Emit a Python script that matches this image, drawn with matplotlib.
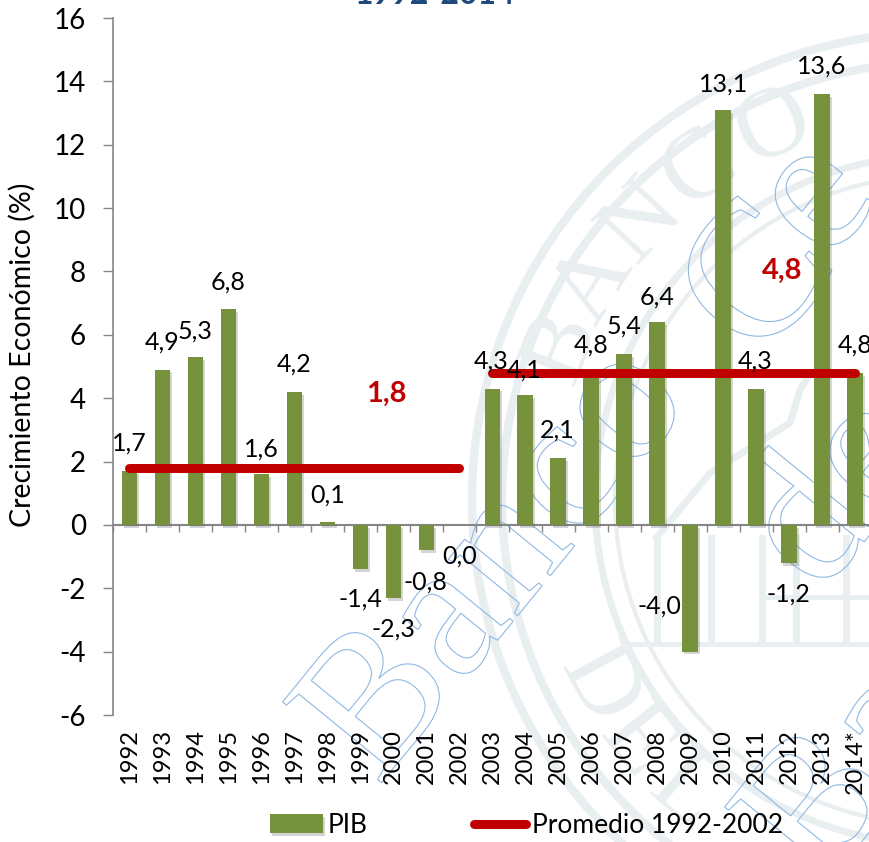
import matplotlib
matplotlib.use("Agg")
import matplotlib.pyplot as plt
import numpy as np
from matplotlib.font_manager import FontProperties
from matplotlib.lines import Line2D
from matplotlib.patches import Circle, PathPatch, Rectangle
from matplotlib.text import TextPath
from matplotlib.transforms import Affine2D, IdentityTransform
import matplotlib.patheffects as pe

# ---------- data ----------
years = ["1992", "1993", "1994", "1995", "1996", "1997", "1998", "1999", "2000", "2001", "2002", "2003",
         "2004", "2005", "2006", "2007", "2008", "2009", "2010", "2011", "2012", "2013", "2014*"]
pib = [1.7, 4.9, 5.3, 6.8, 1.6, 4.2, 0.1, -1.4, -2.3, -0.8, 0.0, 4.3,
       4.1, 2.1, 4.8, 5.4, 6.4, -4.0, 13.1, 4.3, -1.2, 13.6, 4.8]
mean_early = 1.8
mean_late = 4.8
yticks = [-6, -4, -2, 0, 2, 4, 6, 8, 10, 12, 14, 16]

# ---------- label offsets from the bar end, in pixels ----------
label_dx = [0, 0, 0, 0, 0, 0, 0, 0, 0, -1, 0, -1, -1, -1, 0, 0, 0, -31, 0, -1, -1, 0, 0]
label_dy = [28, 28, 26, 27, 25, 28, 27, -30, -31, -32, -31, 28, 25, 28, 28, 28, 25, 46, 26, 28, -31, 28, 28]

W, H = 870, 842
FONT = "Lato"
plt.rcParams["font.family"] = [FONT, "DejaVu Sans"]
fig = plt.figure(figsize=(W / 100, H / 100), dpi=100, facecolor="white")


def py(y):
    return H - y


ident = IdentityTransform()

# ---------- watermark: seal ----------
SEAL = "#e9eef0"
cx, cy = 940, 500
for r, w in [(468, 6), (438, 6), (345, 5), (325, 3)]:
    fig.add_artist(Circle((cx, py(cy)), r, fill=False, ec=SEAL, lw=w, transform=ident, zorder=-2))
for ch, a in zip("BANCO", [22, 32, 43, 54, 66]):
    t = np.radians(a)
    fig.text(cx - 408 * np.cos(t), py(cy - 408 * np.sin(t)), ch, color=SEAL, fontsize=72,
             family="Liberation Serif", ha="center", va="center", rotation=90 - a,
             rotation_mode="anchor", transform=ident, zorder=-2)
for ch, a in zip("DEL", [28.5, 38.6, 49]):
    t = np.radians(a)
    fig.text(cx - 390 * np.cos(t), py(cy + 390 * np.sin(t)), ch, color=SEAL, fontsize=72,
             family="Liberation Serif", ha="center", va="center", rotation=a - 90,
             rotation_mode="anchor", transform=ident, zorder=-2)
fig.add_artist(Rectangle((622, py(647)), 260, 5, fc=SEAL, ec="none", transform=ident, zorder=-2))
fig.add_artist(Rectangle((760, py(600)), 120, 5, fc=SEAL, ec="none", transform=ident, zorder=-2))
for x0 in [654, 708, 759, 793, 843]:
    fig.add_artist(Rectangle((x0, py(645)), 7, 110, fc=SEAL, ec="none", transform=ident, zorder=-2))
fig.add_artist(Line2D([657, 710, 790, 800, 808], [py(537), py(473), py(423), py(390), py(377)],
                      color=SEAL, lw=5, transform=ident, zorder=-2))

# ---------- watermark: outlined lettering ----------
OUT = "#8fb8e3"
serif = FontProperties(family="Liberation Serif")
for s, ox, oy in [("Banco", 378, 787), ("C", 760, 365), ("e", 827, 264), ("Banco", 820, 892), ("de", 820, 596)]:
    tp = TextPath((0, 0), s, size=195, prop=serif)
    tr = Affine2D().rotate_deg(50.8).translate(ox, py(oy))
    fig.add_artist(PathPatch(tp, fc="none", ec=OUT, lw=0.8, transform=tr, zorder=-1))

# ---------- axes (runs past the right edge, as in the reference) ----------
left, right, top, bottom = 113, 112.5 + 33 * 23, 18, 715
ax = fig.add_axes([left / W, py(bottom) / H, (right - left) / W, (bottom - top) / H])
ax.patch.set_visible(False)
ax.set_xlim(-0.5, 22.5)
ax.set_ylim(-6, 16)
x = np.arange(len(years))

bars = ax.bar(x, pib, width=0.47, color="#76923c", label="PIB", zorder=2)
for b in bars:
    b.set_path_effects([pe.SimplePatchShadow(offset=(1.5, -2), alpha=0.25, shadow_rgbFace="#555555"), pe.Normal()])

ax.plot([0, 10], [mean_early] * 2, color="#c00000", lw=6.5, solid_capstyle="round", zorder=3,
        label="Promedio 1992-2002")
ax.plot([11, 22], [mean_late] * 2, color="#c00000", lw=6.5, solid_capstyle="round", zorder=3)

for s in ["top", "right", "bottom"]:
    ax.spines[s].set_visible(False)
ax.spines["left"].set_color("#868686")
ax.spines["left"].set_linewidth(1.2)
ax.set_yticks(yticks)
ax.set_yticklabels([str(v) for v in yticks])
ax.tick_params(axis="y", length=7.5, width=1, color="#868686", labelsize=20, pad=12)
ax.set_xticks(x)
ax.set_xticklabels(years, rotation=90, fontsize=17, ha="center", va="top")
ax.tick_params(axis="x", length=0, pad=10)

sec = ax.secondary_xaxis(6 / 22)
sec.set_xticks(np.arange(-0.5, 23))
sec.set_xticklabels([])
sec.tick_params(axis="x", length=5, width=1, color="#868686")
sec.spines["bottom"].set_color("#868686")
sec.spines["bottom"].set_linewidth(1.5)

ax.set_ylabel("Crecimiento Económico (%)", fontsize=20.5)
ax.yaxis.set_label_coords((36 - left) / (right - left), (bottom - 355) / (bottom - top))

for xi, v, dx, dy in zip(x, pib, label_dx, label_dy):
    ax.annotate(f"{v:.1f}".replace(".", ","), (xi, v), xytext=(dx, dy), textcoords="offset pixels",
                ha="center", va="center", fontsize=18, color="black", zorder=5)

ax.text(7.8, mean_early + 2.33, "1,8", color="#c00000", fontsize=21, fontweight="bold",
        ha="center", va="center", zorder=5)
ax.text(19.79, mean_late + 3.22, "4,8", color="#c00000", fontsize=21, fontweight="bold",
        ha="center", va="center", zorder=5)

# ---------- title, cut by the top edge ----------
fig.text(435, py(4), "1992-2014", color="#1f497d", fontsize=23, fontweight="bold", ha="center",
         va="baseline", transform=ident)

# ---------- legend ----------
h, l = ax.get_legend_handles_labels()
order = [l.index("PIB"), l.index("Promedio 1992-2002")]
fig.legend([h[i] for i in order], [l[i] for i in order], loc="lower left",
           bbox_to_anchor=(266 / W, 0.0 / H), ncol=2, frameon=False, fontsize=19,
           handlelength=2.0, handleheight=0.72, handletextpad=0.2, columnspacing=4.0,
           borderpad=0.15, borderaxespad=0)

fig.savefig("out.png", dpi=100)
